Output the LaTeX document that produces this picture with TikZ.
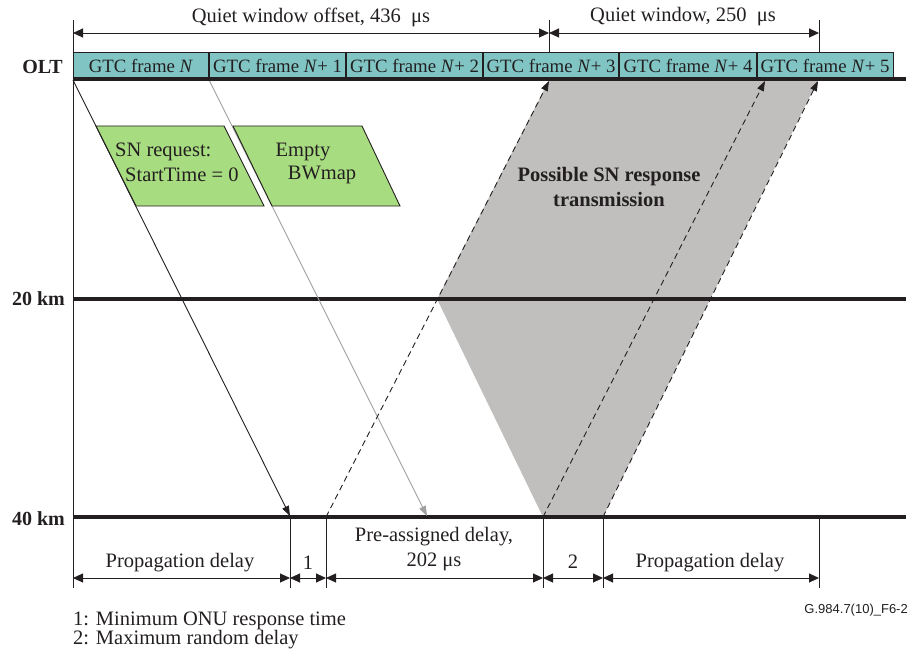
\documentclass[tikz,border=0pt]{standalone}
\usepackage{fontspec}
\setmainfont{Liberation Serif}
\newfontfamily\arialfont{Liberation Sans}
\usetikzlibrary{arrows.meta}
\definecolor{ink}{RGB}{35,31,32}
\definecolor{tealfill}{RGB}{128,196,196}
\definecolor{greenfill}{RGB}{168,220,128}
\definecolor{respgray}{RGB}{192,191,190}
\definecolor{lightarrow}{RGB}{160,160,160}
\begin{document}
\begin{tikzpicture}[x=1pt,y=-1pt,
  txt/.style={font=\fontsize{20.5}{25}\selectfont, text=ink, inner sep=0pt},
  lbl/.style={font=\fontsize{20}{22}\selectfont\bfseries, text=ink, inner sep=0pt, anchor=east},
  frm/.style={draw=ink, line width=1pt, fill=tealfill, minimum height=26pt, inner sep=0pt,
              font=\fontsize{18.8}{20}\selectfont, text=ink},
  thickline/.style={draw=ink, line width=3.5pt},
  thinline/.style={draw=ink, line width=1pt},
  arr/.style={draw=ink, line width=0.9pt, -{Triangle[length=10pt,width=7pt]}},
  grayarr/.style={draw=lightarrow, line width=0.9pt, -{Triangle[length=10pt,width=7pt,fill=lightarrow]}},
  dasharr/.style={draw=ink, line width=0.9pt, dash pattern=on 6pt off 4pt, -{Triangle[length=10pt,width=7pt]}},
  dim/.style={draw=ink, line width=0.9pt, {Triangle[length=10pt,width=9pt]}-{Triangle[length=10pt,width=9pt]}},
  para/.style={draw=ink, line width=0.9pt, fill=greenfill},
]
\useasboundingbox (0,0) rectangle (912,655);

% endpoints
\coordinate (oA) at (73,80);   \coordinate (kA) at (290,516);
\coordinate (oB) at (209,80);  \coordinate (kB) at (427,516);
\coordinate (kC) at (326,517); \coordinate (oC) at (549,81);
\coordinate (kD) at (543,517); \coordinate (oD) at (765,81);
\coordinate (kE) at (603,517); \coordinate (oE) at (818,81);
\coordinate (mC) at (437,299);

% shaded region
\fill[respgray] (mC) -- (549,80) -- (818,80) -- (kE) -- (kD) -- cycle;

% left axis
\draw[thinline] (73,20) -- (73,588);

% distance lines
\draw[thickline] (73,299) -- (906,299);
\draw[thickline] (73,517) -- (906,517);

% arrows
\draw[arr] (oA) -- (kA);
\draw[grayarr] (oB) -- (kB);
\draw[dasharr] (kC) -- (oC);
\draw[dasharr] (kD) -- (oD);
\draw[dasharr] (kE) -- (oE);

% parallelograms
\draw[para] (96,126) -- (224,126) -- (264,206) -- (136,206) -- cycle;
\draw[para] (233,126) -- (362,126) -- (400,206) -- (272,206) -- cycle;
\node[txt, anchor=west] (sn1) at (115,152) {SN request:};
\node[txt, anchor=west] (sn2) at (125,175) {StartTime = 0};
\node[txt] (em1) at (303,152) {Empty};
\node[txt] (em2) at (322,175) {BWmap};

% frames
\foreach \i/\a/\b/\t in {0/73/209/{GTC frame \textit{N}},
                         1/209/346/{GTC frame \textit{N}+ 1},
                         2/346/483/{GTC frame \textit{N}+ 2},
                         3/483/619/{GTC frame \textit{N}+ 3},
                         4/619/757/{GTC frame \textit{N}+ 4},
                         5/757/893/{GTC frame \textit{N}+ 5}}
  \node[frm, minimum width={\b-\a}] (f\i) at ({(\a+\b)/2},65.5) {\t};
\foreach \x in {209,346,483,619,757}
  \draw[draw=ink, line width=2.5pt] (\x,52.5) -- (\x,79);
\draw[thickline] (73,79) -- (906,79);

% labels
\node[lbl] (olt) at (63,67) {OLT};
\node[lbl] (km20) at (65,299) {20 km};
\node[lbl] (km40) at (65,519) {40 km};

\node[txt, font=\fontsize{20.5}{25}\selectfont\bfseries, align=center] (psn) at (609,187)
  {Possible SN response\\transmission};

% top dimensions
\coordinate (tA) at (73,33); \coordinate (tB) at (549,33); \coordinate (tC) at (819,33);
\draw[thinline] (549,20) -- (549,52);
\draw[thinline] (819,20) -- (819,52);
\draw[dim] (tA) -- (tB);
\draw[dim] (tB) -- (tC);
\node[txt] (qwo) at (311,17) {Quiet window offset, 436~~μs};
\node[txt] (qw) at (683,17) {Quiet window, 250~~μs};

% bottom dimensions
\foreach \x in {290,326,543,603,819}
  \draw[thinline] (\x,517) -- (\x,588);
\coordinate (b0) at (73,578); \coordinate (b1) at (290,578); \coordinate (b2) at (326,578);
\coordinate (b3) at (543,578); \coordinate (b4) at (603,578); \coordinate (b5) at (819,578);
\draw[dim] (b0) -- (b1);
\draw[dim] (b1) -- (b2);
\draw[dim] (b2) -- (b3);
\draw[dim] (b3) -- (b4);
\draw[dim] (b4) -- (b5);
\node[txt] (pd1) at (180,563) {Propagation delay};
\node[txt] (one) at (308,563) {1};
\node[txt, align=center] (pad) at (434,549) {Pre-assigned delay,\\202 μs};
\node[txt] (two) at (573,562) {2};
\node[txt] (pd2) at (710,563) {Propagation delay};

% notes
\node[txt, anchor=west] (n1) at (73,621) {1: Minimum ONU response time};
\node[txt, anchor=west] (n2) at (73,640) {2: Maximum random delay};
\node[inner sep=0pt, anchor=east, text=ink, font=\arialfont\fontsize{13}{15}\selectfont] (fig) at (908,610) {G.984.7(10)\_F6-2};
\end{tikzpicture}
\end{document}
